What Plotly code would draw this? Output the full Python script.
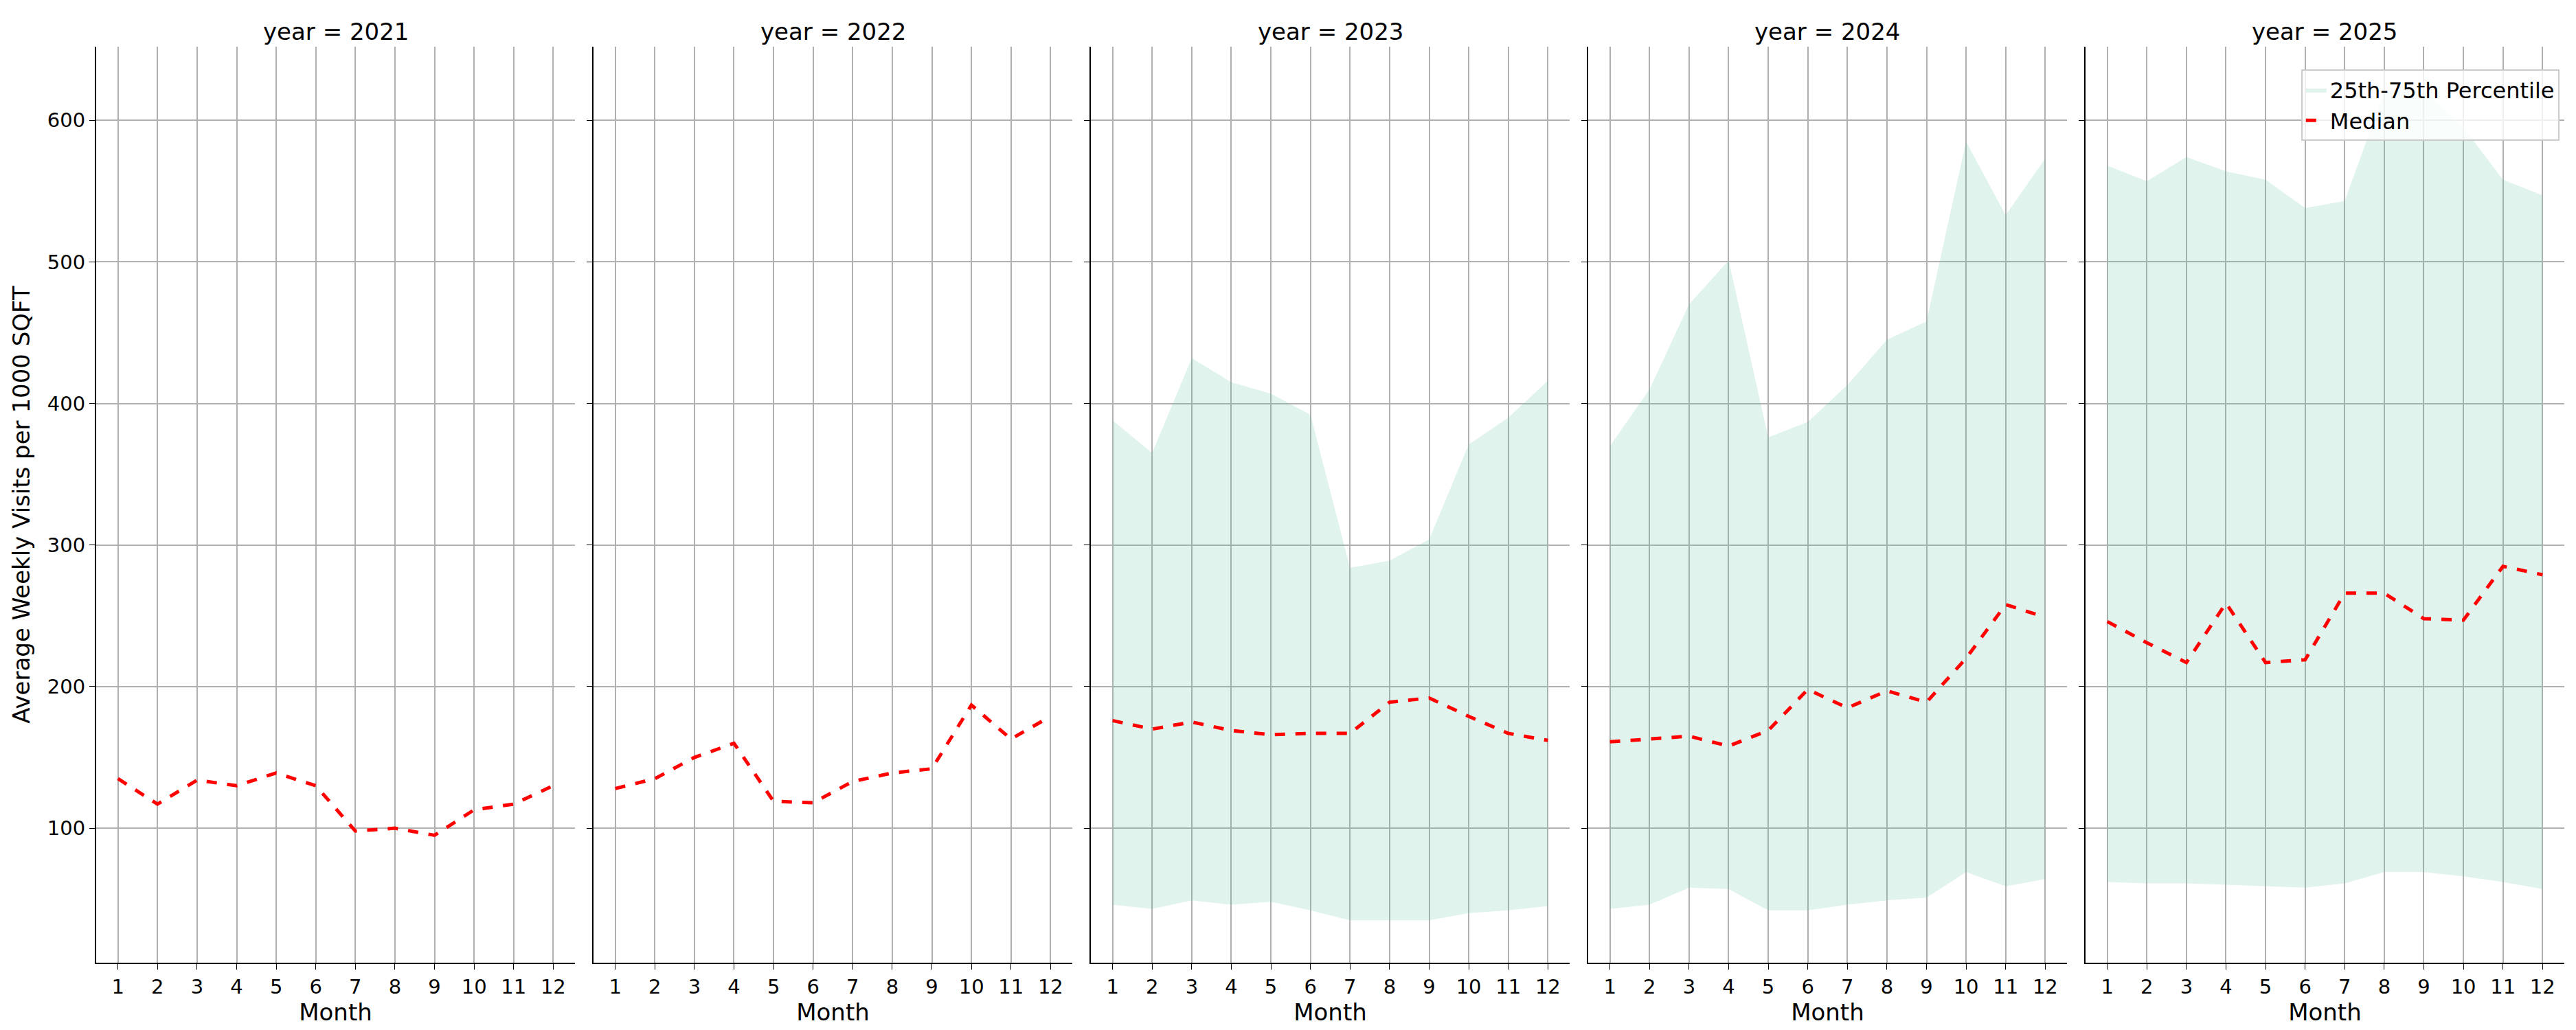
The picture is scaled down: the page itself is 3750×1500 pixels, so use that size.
import plotly.graph_objects as go
from plotly.subplots import make_subplots

years = [2021, 2022, 2023, 2024, 2025]
months = list(range(1, 13))

median = {
    2021: [135, 117, 134, 130, 139, 130, 98, 100, 95, 113, 117, 130],
    2022: [128, 135, 150, 160, 119, 118, 133, 139, 142, 187, 163, 179],
    2023: [176, 170, 175, 169, 166, 167, 167, 189, 192, 179, 167, 162],
    2024: [161, 163, 165, 158, 169, 198, 185, 197, 189, 220, 258, 249],
    2025: [246, 231, 217, 259, 217, 219, 266, 266, 248, 247, 285, 279],
}
p25 = {
    2023: [46, 43, 49, 46, 48, 42, 35, 35, 35, 40, 42, 45],
    2024: [43, 46, 58, 57, 42, 42, 46, 49, 51, 69, 59, 64],
    2025: [62, 61, 61, 60, 59, 58, 61, 69, 69, 66, 62, 57],
}
p75 = {
    2023: [388, 365, 432, 415, 407, 392, 284, 289, 304, 371, 390, 416],
    2024: [370, 410, 470, 501, 376, 387, 413, 445, 458, 585, 533, 573],
    2025: [568, 557, 574, 564, 558, 538, 543, 620, 622, 595, 558, 547],
}

fill_color = "rgba(102,194,165,0.2)"

fig = make_subplots(rows=1, cols=5, shared_yaxes=True, horizontal_spacing=0.0075,
                    subplot_titles=[f"year = {y}" for y in years])

for i, y in enumerate(years):
    col = i + 1
    if y in p25:
        fig.add_trace(go.Scatter(x=months, y=p25[y], mode="lines", line=dict(width=0),
                                 showlegend=False, hoverinfo="skip"), row=1, col=col)
        fig.add_trace(go.Scatter(x=months, y=p75[y], mode="lines", line=dict(width=0),
                                 fill="tonexty", fillcolor=fill_color,
                                 name="25th-75th Percentile", legendrank=2,
                                 showlegend=(y == 2025)), row=1, col=col)
    fig.add_trace(go.Scatter(x=months, y=median[y], mode="lines",
                             line=dict(color="red", width=5, dash="dash"),
                             name="Median", legendrank=1, showlegend=(y == 2025)),
                  row=1, col=col)

fig.update_xaxes(tickvals=months, range=[0.45, 12.55], showgrid=True, gridcolor="#b0b0b0",
                 gridwidth=2, showline=True, linecolor="black", linewidth=2,
                 ticks="outside", ticklen=8, tickcolor="black", zeroline=False,
                 tickfont=dict(size=29), title=dict(text="Month", font=dict(size=34), standoff=5))
fig.update_yaxes(range=[5, 652], tickvals=[100, 200, 300, 400, 500, 600], showgrid=True,
                 gridcolor="#b0b0b0", gridwidth=2, showline=True, linecolor="black",
                 linewidth=2, ticks="outside", ticklen=8, tickcolor="black", zeroline=False,
                 tickfont=dict(size=29))
fig.update_yaxes(title=dict(text="Average Weekly Visits per 1000 SQFT", font=dict(size=34)),
                 row=1, col=1)
fig.update_annotations(font=dict(size=34))

fig.update_layout(
    width=3750, height=1500, plot_bgcolor="white", paper_bgcolor="white",
    font=dict(family="DejaVu Sans", color="black"),
    margin=dict(l=132, r=25, t=60, b=106),
    legend=dict(x=0.998, y=0.975, xanchor="right", yanchor="top", bordercolor="#cccccc",
                borderwidth=2, bgcolor="rgba(255,255,255,0.8)", font=dict(size=32)),
)

fig.write_html("out.html")
